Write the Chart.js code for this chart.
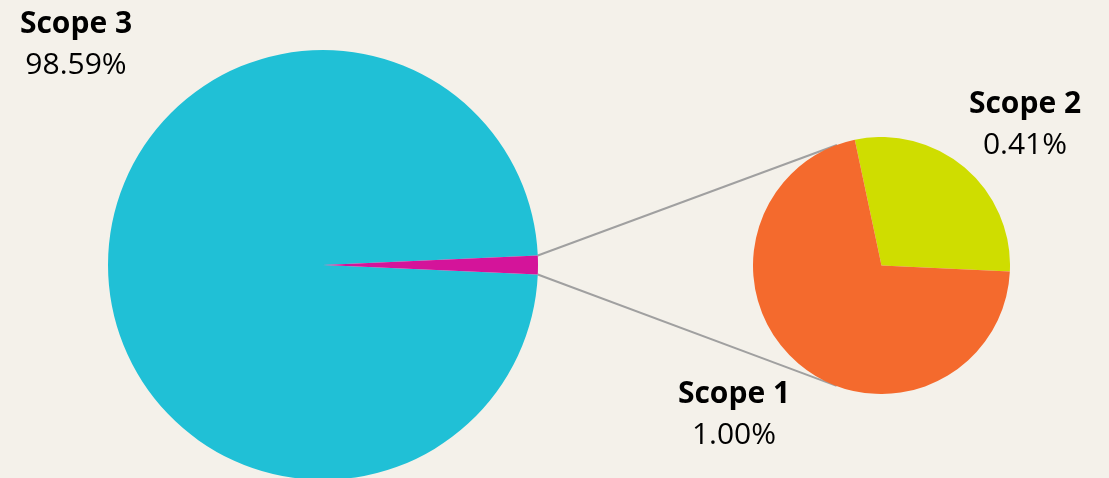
<!DOCTYPE html>
<html>
<head>
<meta charset="utf-8">
<script src="https://cdn.jsdelivr.net/npm/chart.js@4"></script>
<style>
  html, body { margin: 0; padding: 0; }
  body { width: 1109px; height: 478px; overflow: hidden; background: #f4f1ea; position: relative;
         font-family: "Open Sans", "Noto Sans", sans-serif; color: #000; }
  canvas { position: absolute; }
  #lines { left: 0; top: 0; }
  #mainWrap { position: absolute; left: 108px; top: 50px; width: 430px; height: 430px; }
  #detailWrap { position: absolute; left: 753px; top: 137px; width: 257px; height: 257px; }
  .lbl { position: absolute; transform: translateX(-50%); text-align: center; font-size: 30px;
         line-height: 41px; white-space: nowrap; }
  .lbl b { font-weight: 700; display: block; }
  .lbl span { display: block; }
</style>
</head>
<body>
<canvas id="lines" width="1109" height="478"></canvas>
<div id="mainWrap"><canvas id="mainPie"></canvas></div>
<div id="detailWrap"><canvas id="detailPie"></canvas></div>
<div class="lbl" style="left:76px; top:1px;"><b>Scope 3</b><span>98.59%</span></div>
<div class="lbl" style="left:1025px; top:81px;"><b>Scope 2</b><span>0.41%</span></div>
<div class="lbl" style="left:734px; top:371px;"><b>Scope 1</b><span>1.00%</span></div>
<script>
// main split: Scope 3 vs. Scope 1 + 2
const mainLabels = ['Scope 3', 'Scope 1 + 2'];
const mainValues = [98.59, 1.41];
// breakdown of the small slice
const detailLabels = ['Scope 2', 'Scope 1'];
const detailValues = [0.41, 1.00];

const mainColors = ['#20c0d6', '#d4149a'];
const detailColors = ['#cfdd00', '#f46a2d'];

const total = mainValues.reduce((a, b) => a + b, 0);
// put the small slice centred at 3 o'clock
const mainRotation = 90 - 360 * (total - mainValues[1] / 2) / total;

function pieOptions(rotation) {
  return {
    responsive: true,
    maintainAspectRatio: false,
    animation: false,
    rotation: rotation,
    layout: { padding: 0 },
    plugins: { legend: { display: false }, tooltip: { enabled: false } }
  };
}

const mainChart = new Chart(document.getElementById('mainPie'), {
  type: 'pie',
  data: {
    labels: mainLabels,
    datasets: [{ data: mainValues, backgroundColor: mainColors, borderWidth: 0 }]
  },
  options: pieOptions(mainRotation)
});

const detailChart = new Chart(document.getElementById('detailPie'), {
  type: 'pie',
  data: {
    labels: detailLabels,
    datasets: [{ data: detailValues, backgroundColor: detailColors, borderWidth: 0 }]
  },
  options: pieOptions(-12)
});

// connector lines: from the small slice edges, tangent to the detail pie
function drawConnectors() {
  const mw = document.getElementById('mainWrap');
  const dw = document.getElementById('detailWrap');
  const arc = mainChart.getDatasetMeta(0).data[1];
  const d = detailChart.getDatasetMeta(0).data[0];
  const cx = d.x + dw.offsetLeft, cy = d.y + dw.offsetTop, r = d.outerRadius;
  const ox = arc.x + mw.offsetLeft, oy = arc.y + mw.offsetTop, R = arc.outerRadius;

  const ctx = document.getElementById('lines').getContext('2d');
  ctx.strokeStyle = '#a0a0a0';
  ctx.lineWidth = 2;

  [[arc.startAngle, 1], [arc.endAngle, -1]].forEach(([a, sign]) => {
    const px = ox + R * Math.cos(a), py = oy + R * Math.sin(a);
    const dist = Math.hypot(px - cx, py - cy);
    const theta = Math.atan2(py - cy, px - cx);
    const t = theta + sign * Math.acos(r / dist);
    ctx.beginPath();
    ctx.moveTo(px, py);
    ctx.lineTo(cx + r * Math.cos(t), cy + r * Math.sin(t));
    ctx.stroke();
  });
}
drawConnectors();
</script>
</body>
</html>
